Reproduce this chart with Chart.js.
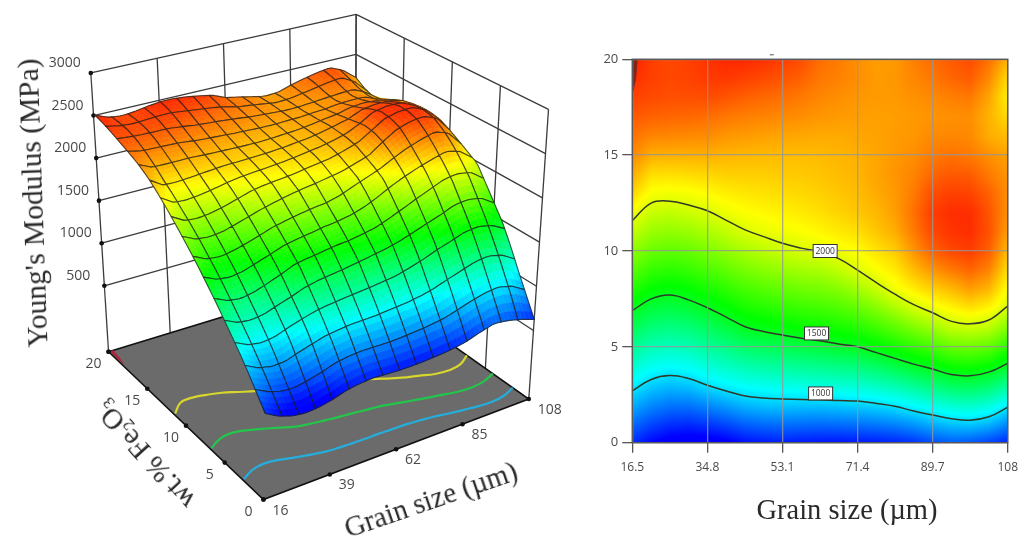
<!DOCTYPE html>
<html>
<head>
<meta charset="utf-8">
<script src="https://cdn.jsdelivr.net/npm/chart.js@4"></script>
<style>
  html, body { margin: 0; padding: 0; background: #fff; width: 1026px; height: 541px; overflow: hidden; }
  canvas { position: absolute; top: 0; filter: blur(0.45px); }
  #surface { left: 0; }
  #contour { left: 590px; }
  .title {
    position: absolute; white-space: nowrap; color: #2a2a2a;
    font-family: "Liberation Serif", serif; filter: blur(0.3px);
    transform-origin: center;
  }
  .title sub { font-size: 60%; vertical-align: -0.25em; line-height: 0; }
</style>
</head>
<body>
<canvas id="surface" width="590" height="541"></canvas>
<canvas id="contour" width="436" height="541"></canvas>
<div class="title" style="left:33px;top:203px;font-size:29.5px;transform:translate(-50%,-50%) rotate(-92deg)">Young's Modulus (MPa)</div>
<div class="title" style="left:145px;top:455px;font-size:29px;transform:translate(-50%,-50%) rotate(-132deg)">wt.% Fe<sub>2</sub>O<sub>3</sub></div>
<div class="title" style="left:431px;top:500px;font-size:28.5px;transform:translate(-50%,-50%) rotate(-19deg)">Grain size (µm)</div>
<div class="title" style="left:847px;top:510px;font-size:28.5px;transform:translate(-50%,-50%)">Grain size (µm)</div>
<script>
const gridGrain = [16.5, 21.1, 25.65, 30.2, 34.8, 39.4, 44, 48.5, 53.1, 57.7, 62.25, 66.8, 71.4, 76, 80.5, 85.1, 89.7, 94.3, 98.8, 103.4, 108];
const gridWt = [0, 1, 2, 3, 4, 5, 6, 7, 8, 9, 10, 11, 12, 13, 14, 15, 16, 17, 18, 19, 20];

// modulus (MPa), one line per grain size, wt% 0 -> 20
const modulusGrid = [
  [640, 770, 905, 1035, 1155, 1275, 1395, 1510, 1625, 1735, 1840, 1945, 2045, 2140, 2225, 2290, 2340, 2385, 2430, 2470, 2500],
  [560, 695, 830, 960, 1085, 1205, 1325, 1440, 1555, 1660, 1765, 1860, 1950, 2045, 2125, 2220, 2300, 2370, 2415, 2435, 2440],
  [510, 650, 790, 930, 1060, 1185, 1300, 1420, 1535, 1640, 1745, 1845, 1940, 2035, 2120, 2215, 2295, 2360, 2405, 2420, 2420],
  [490, 640, 790, 945, 1080, 1205, 1325, 1445, 1555, 1660, 1760, 1860, 1960, 2045, 2130, 2215, 2290, 2355, 2405, 2430, 2435],
  [500, 665, 830, 1000, 1130, 1255, 1375, 1495, 1600, 1700, 1800, 1895, 1990, 2065, 2140, 2215, 2285, 2345, 2410, 2445, 2460],
  [530, 700, 875, 1040, 1175, 1300, 1430, 1545, 1645, 1745, 1845, 1940, 2025, 2090, 2150, 2205, 2265, 2325, 2395, 2450, 2480],
  [575, 750, 920, 1075, 1215, 1355, 1495, 1600, 1695, 1795, 1890, 1990, 2055, 2105, 2155, 2200, 2255, 2310, 2370, 2435, 2480],
  [600, 770, 945, 1090, 1240, 1385, 1520, 1625, 1725, 1825, 1925, 2020, 2070, 2115, 2155, 2195, 2245, 2300, 2355, 2415, 2465],
  [610, 780, 955, 1105, 1255, 1405, 1540, 1645, 1750, 1855, 1960, 2035, 2085, 2125, 2160, 2190, 2235, 2290, 2340, 2395, 2440],
  [600, 775, 950, 1115, 1270, 1425, 1565, 1670, 1775, 1880, 1985, 2050, 2100, 2135, 2165, 2190, 2230, 2280, 2320, 2370, 2410],
  [590, 770, 950, 1125, 1285, 1450, 1575, 1685, 1790, 1895, 2005, 2075, 2120, 2150, 2175, 2195, 2225, 2265, 2295, 2325, 2345],
  [590, 775, 960, 1140, 1305, 1475, 1600, 1710, 1820, 1935, 2035, 2100, 2145, 2170, 2190, 2205, 2225, 2255, 2280, 2305, 2315],
  [595, 785, 975, 1150, 1325, 1500, 1625, 1750, 1875, 2000, 2060, 2120, 2170, 2190, 2205, 2215, 2235, 2250, 2265, 2280, 2280],
  [605, 800, 990, 1180, 1370, 1540, 1680, 1815, 1950, 2050, 2110, 2170, 2200, 2225, 2235, 2235, 2240, 2245, 2255, 2255, 2250],
  [620, 820, 1020, 1220, 1420, 1590, 1740, 1890, 2035, 2100, 2160, 2220, 2250, 2260, 2270, 2260, 2255, 2250, 2260, 2265, 2260],
  [650, 860, 1070, 1275, 1480, 1645, 1805, 1970, 2090, 2190, 2270, 2320, 2340, 2320, 2300, 2280, 2265, 2260, 2275, 2295, 2310],
  [700, 910, 1115, 1325, 1525, 1695, 1870, 2025, 2150, 2265, 2370, 2420, 2440, 2410, 2360, 2320, 2290, 2270, 2290, 2325, 2350],
  [740, 945, 1160, 1380, 1580, 1760, 1940, 2075, 2195, 2320, 2420, 2460, 2470, 2435, 2385, 2335, 2295, 2275, 2310, 2360, 2385],
  [720, 960, 1180, 1395, 1595, 1775, 1960, 2110, 2250, 2360, 2440, 2470, 2470, 2430, 2380, 2320, 2290, 2280, 2320, 2380, 2410],
  [680, 920, 1140, 1355, 1560, 1745, 1930, 2075, 2200, 2300, 2375, 2400, 2395, 2370, 2320, 2280, 2220, 2210, 2235, 2290, 2340],
  [625, 830, 1040, 1265, 1475, 1640, 1810, 1980, 2050, 2120, 2190, 2250, 2275, 2280, 2265, 2240, 2190, 2130, 2085, 2130, 2210]
];

// contour levels: wt% where the surface crosses the level, per grain size
const contour1000 = [2.71, 3.3, 3.5, 3.35, 3.0, 2.7, 2.44, 2.33, 2.28, 2.25, 2.24, 2.2, 2.17, 2.05, 1.9, 1.65, 1.44, 1.25, 1.17, 1.35, 1.85];
const contour1500 = [6.89, 7.5, 7.7, 7.45, 7.04, 6.55, 6.05, 5.8, 5.62, 5.45, 5.32, 5.15, 5.0, 4.7, 4.4, 4.1, 3.84, 3.56, 3.49, 3.68, 4.14];
const contour2000 = [11.58, 12.5, 12.6, 12.4, 12.1, 11.6, 11.1, 10.75, 10.4, 10.15, 9.95, 9.6, 9.0, 8.35, 7.75, 7.2, 6.78, 6.33, 6.2, 6.4, 7.13];
const peakGrain = [16.5, 17.7, 17.3, 16.5];
const peakWt = [20, 20, 19, 18.2];

const contourLabels = ["2000", "1500", "1000"];
const labelGrain = [63.5, 61.4, 62.4];
const labelWt = [10.0, 5.7, 2.57];

const grainTicks3d = [16, 39, 62, 85, 108];
const wtTicks = [0, 5, 10, 15, 20];
const modulusTicks = [500, 1000, 1500, 2000, 2500, 3000];
const grainTicks2d = [16.5, 34.8, 53.1, 71.4, 89.7, 108];

// colour ramp of the surface
const rampValues = [550, 1055, 1557, 2060, 2560];
const rampColors = [[0, 0, 255], [0, 255, 255], [0, 255, 0], [255, 255, 0], [255, 0, 0]];

function rampColor(z) {
  if (z <= rampValues[0]) return rampColors[0];
  for (let i = 1; i < rampValues.length; i += 1) {
    if (z <= rampValues[i]) {
      const t = (z - rampValues[i - 1]) / (rampValues[i] - rampValues[i - 1]);
      const a = rampColors[i - 1];
      const b = rampColors[i];
      return [a[0] + (b[0] - a[0]) * t, a[1] + (b[1] - a[1]) * t, a[2] + (b[2] - a[2]) * t];
    }
  }
  return rampColors[rampColors.length - 1];
}

function gridValue(grain, wt) {
  const step = (gridGrain[20] - gridGrain[0]) / 20;
  const fx = Math.min(19.999, Math.max(0, (grain - gridGrain[0]) / step));
  const fy = Math.min(19.999, Math.max(0, wt));
  const i = Math.floor(fx);
  const j = Math.floor(fy);
  const a = fx - i;
  const b = fy - j;
  const m = modulusGrid;
  return m[i][j] * (1 - a) * (1 - b) + m[i + 1][j] * a * (1 - b) + m[i][j + 1] * (1 - a) * b + m[i + 1][j + 1] * a * b;
}

// ---- 3D box: view coordinates of the eight corners, order (u,v): 00, 10, 01, 11
const floorCorners = [[263, 503], [532, 401], [106, 353], [356, 276.5]];
const topCorners = [[264, 192], [552, 107], [88, 70], [357, 10.5]];
const floorLevel = -275;
const meshCells = 16;

function mix2(c, u, v, k) {
  return c[0][k] * (1 - u) * (1 - v) + c[1][k] * u * (1 - v) + c[2][k] * (1 - u) * v + c[3][k] * u * v;
}

function project(grain, wt, z) {
  const u = (grain - 16) / 92;
  const v = wt / 20;
  const t = (z - floorLevel) / (3000 - floorLevel);
  return {
    x: mix2(floorCorners, u, v, 0) * (1 - t) + mix2(topCorners, u, v, 0) * t,
    y: mix2(floorCorners, u, v, 1) * (1 - t) + mix2(topCorners, u, v, 1) * t
  };
}

function frameLine(a, b, color, width) {
  return {
    data: [project(a[0], a[1], a[2]), project(b[0], b[1], b[2])],
    showLine: true, borderColor: color, borderWidth: width, pointRadius: 0, order: 9
  };
}

function buildBoxDatasets() {
  const sets = [];
  const wall = "#3c3c3c";
  for (const z of modulusTicks) {
    sets.push(frameLine([16, 20, z], [108, 20, z], wall, 1.3));
    sets.push(frameLine([108, 20, z], [108, 0, z], wall, 1.3));
  }
  for (const g of grainTicks3d) sets.push(frameLine([g, 20, floorLevel], [g, 20, 3000], wall, 1.3));
  for (const w of wtTicks) sets.push(frameLine([108, w, floorLevel], [108, w, 3000], wall, 1.3));

  sets.push({
    data: [project(16, 20, floorLevel), project(16, 0, floorLevel), project(108, 0, floorLevel), project(108, 20, floorLevel), project(16, 20, floorLevel)],
    showLine: true, fill: "shape", backgroundColor: "#6b6b6b", borderColor: "#111", borderWidth: 1.6, pointRadius: 0, order: 5
  });
  sets.push({
    data: peakGrain.map((g, i) => project(g, peakWt[i], floorLevel)),
    showLine: true, fill: "shape", backgroundColor: "#b4203a", borderColor: "#b4203a", borderWidth: 0.5, pointRadius: 0, order: 4
  });

  const levels = [[contour2000, "#d6d62e"], [contour1500, "#22c64a"], [contour1000, "#25aedc"]];
  for (const [line, color] of levels) {
    sets.push({
      data: gridGrain.map((g, i) => project(g, line[i], floorLevel)),
      showLine: true, tension: 0.4, borderColor: color, borderWidth: 2.2, pointRadius: 0, order: 3
    });
  }

  const dots = [];
  for (const z of modulusTicks) dots.push(project(16, 20, z));
  dots.push(project(16, 20, floorLevel));
  for (const w of wtTicks) dots.push(project(16, w, floorLevel));
  for (const g of grainTicks3d) dots.push(project(g, 0, floorLevel));
  sets.push({ data: dots, showLine: false, pointRadius: 2.3, backgroundColor: "#111", borderWidth: 0, order: 2 });
  return sets;
}

const surfacePlugin = {
  id: "surfaceMesh",
  afterDatasetsDraw(chart) {
    const ctx = chart.ctx;
    const sx = chart.scales.x;
    const sy = chart.scales.y;
    const sub = 4;
    const grainStep = (108 - 16.5) / meshCells;
    const wtStep = 20 / meshCells;
    const pixel = (g, w) => {
      const p = project(g, w, gridValue(g, w));
      return { x: sx.getPixelForValue(p.x), y: sy.getPixelForValue(p.y) };
    };
    ctx.save();
    ctx.lineJoin = "round";
    // far corner first
    for (let i = meshCells - 1; i >= 0; i -= 1) {
      for (let j = meshCells - 1; j >= 0; j -= 1) {
        const g0 = 16.5 + i * grainStep;
        const w0 = j * wtStep;
        const dg = grainStep / sub;
        const dw = wtStep / sub;
        for (let s = sub - 1; s >= 0; s -= 1) {
          for (let r = sub - 1; r >= 0; r -= 1) {
            const g = g0 + s * dg;
            const w = w0 + r * dw;
            const c = rampColor(gridValue(g + dg / 2, w + dw / 2));
            const col = `rgb(${c[0] | 0},${c[1] | 0},${c[2] | 0})`;
            const q = [pixel(g, w), pixel(g + dg, w), pixel(g + dg, w + dw), pixel(g, w + dw)];
            ctx.beginPath();
            ctx.moveTo(q[0].x, q[0].y);
            for (let k = 1; k < 4; k += 1) ctx.lineTo(q[k].x, q[k].y);
            ctx.closePath();
            ctx.fillStyle = col;
            ctx.strokeStyle = col;
            ctx.lineWidth = 0.6;
            ctx.fill();
            ctx.stroke();
          }
        }
        // mesh line round the cell
        ctx.beginPath();
        const start = pixel(g0, w0);
        ctx.moveTo(start.x, start.y);
        for (let k = 1; k <= sub; k += 1) { const p = pixel(g0 + k * dg, w0); ctx.lineTo(p.x, p.y); }
        for (let k = 1; k <= sub; k += 1) { const p = pixel(g0 + grainStep, w0 + k * dw); ctx.lineTo(p.x, p.y); }
        for (let k = 1; k <= sub; k += 1) { const p = pixel(g0 + grainStep - k * dg, w0 + wtStep); ctx.lineTo(p.x, p.y); }
        for (let k = 1; k <= sub; k += 1) { const p = pixel(g0, w0 + wtStep - k * dw); ctx.lineTo(p.x, p.y); }
        ctx.closePath();
        ctx.strokeStyle = "rgba(30,30,30,0.75)";
        ctx.lineWidth = 1.1;
        ctx.stroke();
      }
    }
    ctx.restore();

    // tick labels of the box
    const text = (p, label, dx, dy) => {
      ctx.fillText(label, sx.getPixelForValue(p.x) + dx, sy.getPixelForValue(p.y) + dy);
    };
    ctx.save();
    ctx.font = '14px "Open Sans"';
    ctx.fillStyle = "#4a4a4a";
    ctx.textAlign = "center";
    ctx.textBaseline = "middle";
    for (const z of modulusTicks) text(project(16, 20, z), String(z), -26, -10);
    for (const w of wtTicks) text(project(16, w, floorLevel), String(w), -15, 12);
    for (const g of grainTicks3d) text(project(g, 0, floorLevel), String(g), g === 108 ? 21 : 17, 11);
    ctx.restore();
  }
};

new Chart(document.getElementById("surface"), {
  type: "scatter",
  data: { datasets: buildBoxDatasets() },
  options: {
    responsive: false,
    animation: false,
    layout: { padding: 0 },
    plugins: { legend: { display: false }, tooltip: { enabled: false } },
    scales: {
      x: { type: "linear", min: 0, max: 590, display: false },
      y: { type: "linear", min: 0, max: 541, reverse: true, display: false }
    }
  },
  plugins: [surfacePlugin]
});

// ---- contour map
const heatPlugin = {
  id: "heat",
  beforeDatasetsDraw(chart) {
    const { ctx, chartArea: a, scales } = chart;
    const w = Math.round(a.right - a.left);
    const h = Math.round(a.bottom - a.top);
    const off = document.createElement("canvas");
    off.width = w;
    off.height = h;
    const octx = off.getContext("2d");
    const img = octx.createImageData(w, h);
    for (let py = 0; py < h; py += 1) {
      const wt = scales.y.getValueForPixel(a.top + py + 0.5);
      for (let px = 0; px < w; px += 1) {
        const grain = scales.x.getValueForPixel(a.left + px + 0.5);
        const c = rampColor(gridValue(grain, wt));
        const k = (py * w + px) * 4;
        img.data[k] = c[0];
        img.data[k + 1] = c[1];
        img.data[k + 2] = c[2];
        img.data[k + 3] = 255;
      }
    }
    octx.putImageData(img, 0, 0);
    ctx.drawImage(off, a.left, a.top);
  },
  afterDraw(chart) {
    const { ctx, chartArea: a, scales } = chart;
    ctx.save();
    ctx.strokeStyle = "#5a5a5a";
    ctx.lineWidth = 1.5;
    ctx.strokeRect(a.left, a.top, a.right - a.left, a.bottom - a.top);
    ctx.fillStyle = "#555";
    ctx.fillRect(scales.x.getPixelForValue(50), a.top - 5, 4, 1);
    ctx.font = '8.5px "Open Sans"';
    ctx.textAlign = "center";
    ctx.textBaseline = "middle";
    contourLabels.forEach((label, i) => {
      const x = scales.x.getPixelForValue(labelGrain[i]);
      const y = scales.y.getPixelForValue(labelWt[i]);
      ctx.fillStyle = "#fff";
      ctx.fillRect(x - 12, y - 6.5, 24, 13);
      ctx.strokeStyle = "#333";
      ctx.lineWidth = 1;
      ctx.strokeRect(x - 12, y - 6.5, 24, 13);
      ctx.fillStyle = "#333";
      ctx.fillText(label, x, y + 0.5);
    });
    ctx.restore();
  }
};

function contourSet(line) {
  return {
    data: gridGrain.map((g, i) => ({ x: g, y: line[i] })),
    showLine: true, tension: 0.4, borderColor: "#2f3a2a", borderWidth: 1.5, pointRadius: 0
  };
}

new Chart(document.getElementById("contour"), {
  type: "scatter",
  data: {
    datasets: [
      contourSet(contour1000),
      contourSet(contour1500),
      contourSet(contour2000),
      {
        data: peakGrain.map((g, i) => ({ x: g, y: peakWt[i] })),
        showLine: true, fill: "shape", backgroundColor: "#8a2014", borderColor: "#7a2a20", borderWidth: 1, pointRadius: 0
      }
    ]
  },
  options: {
    responsive: false,
    animation: false,
    layout: { padding: { top: 59.3, right: 12.3, left: 0, bottom: 0 } },
    plugins: { legend: { display: false }, tooltip: { enabled: false } },
    scales: {
      x: {
        type: "linear", min: 16.5, max: 108,
        afterBuildTicks: (axis) => { axis.ticks = grainTicks2d.map((value) => ({ value })); },
        afterFit: (axis) => { axis.height = 98.3; },
        ticks: { autoSkip: false, maxRotation: 0, padding: 8, color: "#4a4a4a", font: { family: "Open Sans", size: 12 }, callback: (v) => String(v) },
        grid: { color: "rgba(150,150,150,0.8)", lineWidth: 1.3, tickLength: 10, tickColor: "#555", z: 1 },
        border: { display: false }
      },
      y: {
        type: "linear", min: 0, max: 20,
        afterBuildTicks: (axis) => { axis.ticks = wtTicks.map((value) => ({ value })); },
        afterFit: (axis) => { axis.width = 42.3; },
        ticks: { padding: 4, color: "#4a4a4a", font: { family: "Open Sans", size: 13 } },
        grid: { color: "rgba(150,150,150,0.8)", lineWidth: 1.3, tickLength: 10, tickColor: "#555", z: 1 },
        border: { display: false }
      }
    }
  },
  plugins: [heatPlugin]
});
</script>
</body>
</html>
